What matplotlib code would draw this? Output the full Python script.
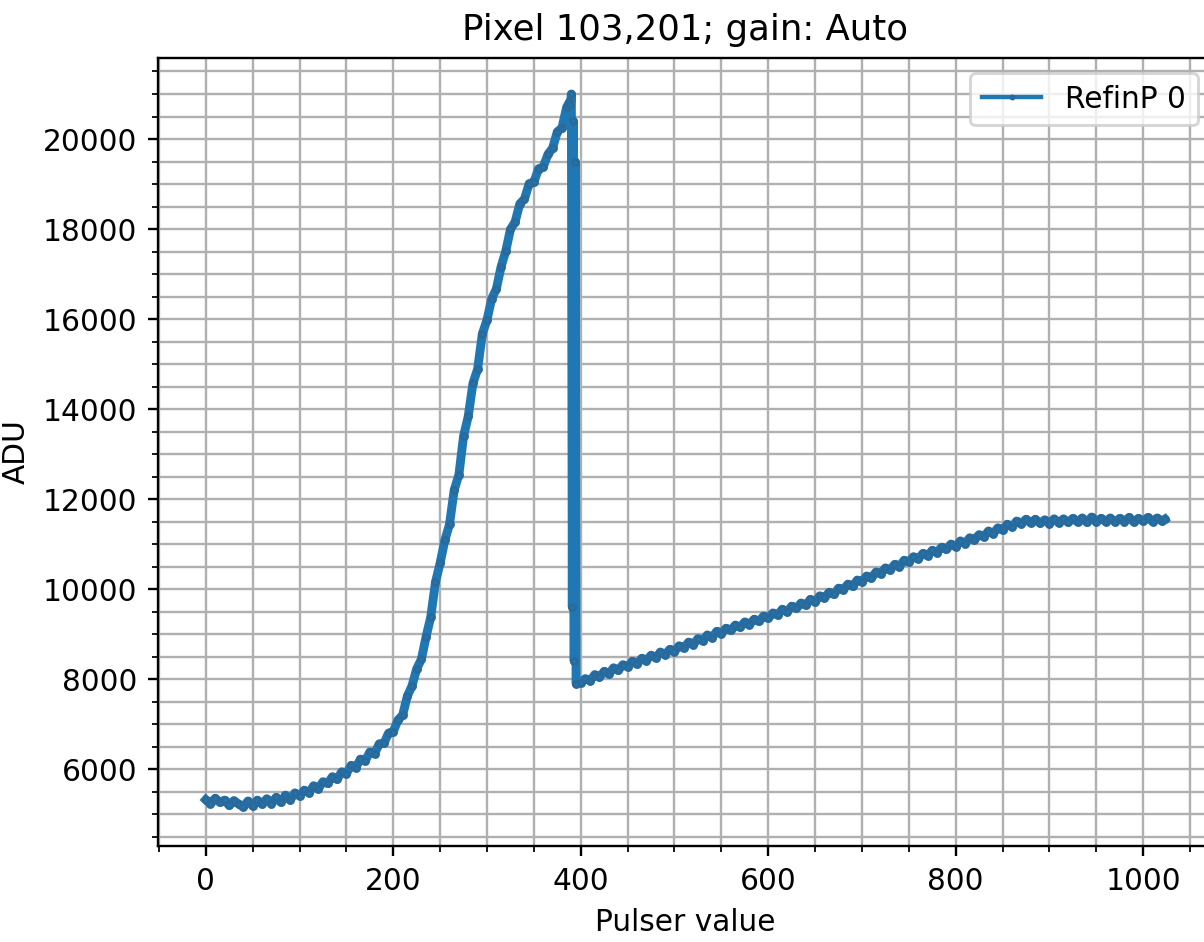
import matplotlib.pyplot as plt

# pulser settings (denser around the drop at ~390)
pulser = list(range(0, 390, 5)) + [388, 389, 390, 391, 392, 393, 394, 395] + list(range(400, 1021, 5)) + [1023]

adu_rise = [5320, 5230, 5350, 5260, 5310, 5190, 5300, 5220, 5160, 5290,
            5180, 5310, 5220, 5340, 5230, 5370, 5260, 5420, 5310, 5470,
            5400, 5530, 5470, 5630, 5560, 5720, 5680, 5830, 5770, 5940,
            5900, 6080, 6030, 6220, 6180, 6380, 6340, 6560, 6570, 6800,
            6830, 7090, 7200, 7620, 7850, 8230, 8440, 8940, 9380, 10150,
            10580, 11080, 11440, 12200, 12540, 13400, 13840, 14570, 14890, 15670,
            15980, 16450, 16670, 17160, 17510, 17990, 18160, 18560, 18670, 19010,
            19040, 19340, 19380, 19660, 19800, 20160, 20250, 20710]
adu_drop = [20820, 20750, 21000, 9600, 20400, 8400, 19500, 7900]
adu_tail = [7920, 8010, 7960, 8100, 8040, 8170, 8110, 8250, 8190, 8320,
            8270, 8390, 8330, 8460, 8410, 8530, 8470, 8600, 8540, 8660,
            8610, 8740, 8690, 8820, 8760, 8900, 8850, 8980, 8920, 9060,
            9010, 9130, 9080, 9200, 9150, 9270, 9210, 9330, 9280, 9400,
            9350, 9470, 9420, 9550, 9490, 9620, 9570, 9690, 9640, 9770,
            9710, 9850, 9800, 9930, 9880, 10020, 9980, 10110, 10060, 10200,
            10160, 10290, 10240, 10380, 10340, 10470, 10420, 10550, 10500, 10640,
            10600, 10720, 10670, 10790, 10740, 10860, 10810, 10930, 10880, 11000,
            10940, 11070, 11010, 11140, 11090, 11210, 11160, 11290, 11230, 11360,
            11310, 11440, 11380, 11510, 11450, 11550, 11470, 11550, 11460, 11540,
            11450, 11560, 11470, 11560, 11480, 11570, 11490, 11580, 11480, 11600,
            11490, 11570, 11500, 11580, 11490, 11570, 11500, 11590, 11490, 11570,
            11510, 11590, 11500, 11580, 11510, 11550]
adu = adu_rise + adu_drop + adu_tail

dpi = 213
fig = plt.figure(figsize=(1204 / dpi, 942 / dpi), dpi=dpi)
ax = fig.add_axes([0.13123, 0.10191, 0.87583, 0.83652])

# thick line stands in for the per-point noise band of the raw scan
ax.plot(pulser, adu, '.-', color='#1f77b4', linewidth=3, markersize=4,
        markeredgecolor='#2a6a9a', label='RefinP 0')

ax.set_xlim(-51, 1074)
ax.set_ylim(4290, 21800)
ax.minorticks_on()
ax.grid(True, which='both')

ax.set_xlabel("Pulser value")
ax.set_ylabel("ADU")
ax.set_title("Pixel 103,201; gain: Auto")
leg = ax.legend(loc='upper right')
leg.get_lines()[0].set_linewidth(1.5)
leg.get_lines()[0].set_markersize(2)

fig.savefig("out.png", dpi=dpi)
